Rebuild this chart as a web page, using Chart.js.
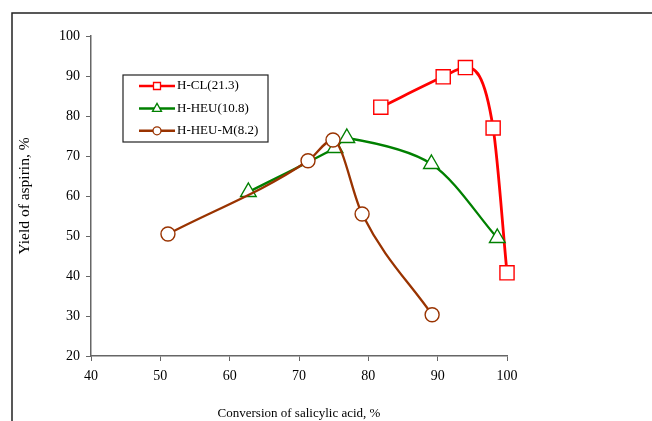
<!DOCTYPE html>
<html>
<head>
<meta charset="utf-8">
<script src="https://cdn.jsdelivr.net/npm/chart.js@4/dist/chart.umd.min.js"></script>
<style>
  html, body { margin: 0; padding: 0; background: #fff; }
</style>
</head>
<body>
<canvas id="myChart" width="652" height="421"></canvas>
<script>
/* global Chart */

// series (conversion %, yield %)
let seriesNames = ['H-CL(21.3)', 'H-HEU(10.8)', 'H-HEU-M(8.2)'];
let clX = [81.8, 90.8, 94.0, 98.0, 100.0];
let clY = [82.2, 89.8, 92.1, 77.0, 40.8];
let heuX = [62.7, 75.2, 76.9, 89.1, 98.6];
let heuY = [61.0, 72.0, 74.5, 68.0, 49.5];
let heumX = [51.1, 71.3, 74.9, 79.1, 89.2];
let heumY = [50.5, 68.8, 74.0, 55.5, 30.3];
let xTicks = [40, 50, 60, 70, 80, 90, 100];
let yTicks = [20, 30, 40, 50, 60, 70, 80, 90, 100];

let colors = ['#ff0000', '#008000', '#993300'];
let styles = ['rect', 'triangle', 'circle'];
let radii = [10, 9, 7];

function pts(xs, ys) {
  return xs.map(function (x, i) { return { x: x, y: ys[i] }; });
}

let serif = "'Liberation Serif', 'Times New Roman', serif";

// outer frame (top + left edges only)
let framePlugin = {
  id: 'frame',
  beforeDraw: function (chart) {
    let c = chart.ctx;
    c.save();
    c.strokeStyle = '#222';
    c.lineWidth = 1.5;
    c.beginPath();
    c.moveTo(652, 13);
    c.lineTo(12, 13);
    c.lineTo(12, 421);
    c.stroke();
    c.restore();
  }
};

// boxed legend with line + marker samples
let legendPlugin = {
  id: 'boxLegend',
  afterDraw: function (chart) {
    let c = chart.ctx;
    c.save();
    c.fillStyle = '#fff';
    c.fillRect(123, 75, 145, 67);
    c.strokeStyle = '#222';
    c.lineWidth = 1.2;
    c.strokeRect(123, 75, 145, 67);
    c.font = '13px ' + serif;
    c.textBaseline = 'middle';
    seriesNames.forEach(function (name, i) {
      let y = 86 + i * 22.4;
      c.strokeStyle = colors[i];
      c.lineWidth = 2.5;
      c.beginPath();
      c.moveTo(139, y);
      c.lineTo(175, y);
      c.stroke();
      c.fillStyle = '#fff';
      c.lineWidth = 1.3;
      c.beginPath();
      if (i === 0) {
        c.rect(153.5, y - 3.5, 7, 7);
      } else if (i === 1) {
        c.moveTo(157, y - 5);
        c.lineTo(161.5, y + 3);
        c.lineTo(152.5, y + 3);
        c.closePath();
      } else {
        c.arc(157, y, 4, 0, Math.PI * 2);
      }
      c.fill();
      c.stroke();
      c.fillStyle = '#000';
      c.fillText(name, 177, y);
    });
    c.restore();
  }
};

let datasets = [
  { data: pts(clX, clY), order: 2, cubicInterpolationMode: 'monotone' },
  { data: pts(heuX, heuY), order: 1, tension: 0.3 },
  { data: pts(heumX, heumY), order: 0, cubicInterpolationMode: 'monotone' }
].map(function (d, i) {
  return Object.assign(d, {
    label: seriesNames[i],
    borderColor: colors[i],
    borderWidth: i === 0 ? 2.8 : 2.3,
    backgroundColor: '#fff',
    pointStyle: styles[i],
    pointRadius: radii[i],
    pointBorderWidth: 1.4,
    pointBorderColor: colors[i],
    pointBackgroundColor: '#fff',
    clip: false,
    fill: false
  });
});

let ctx = document.getElementById('myChart').getContext('2d');
let myChart = new Chart(ctx, {
  type: 'line',
  data: { datasets: datasets },
  plugins: [framePlugin, legendPlugin],
  options: {
    responsive: false,
    animation: false,
    devicePixelRatio: 1,
    layout: { padding: { left: 0, top: 36, right: 145, bottom: 0 } },
    plugins: { legend: { display: false }, tooltip: { enabled: false } },
    scales: {
      x: {
        type: 'linear',
        min: xTicks[0],
        max: xTicks[xTicks.length - 1],
        afterBuildTicks: function (s) { s.ticks = xTicks.map(function (v) { return { value: v }; }); },
        afterFit: function (s) { s.height = 65; },
        grid: { drawOnChartArea: false, drawTicks: true, tickLength: 5, color: '#666' },
        border: { color: '#666', width: 1.5 },
        ticks: { color: '#000', font: { family: serif, size: 14 }, padding: 7, maxRotation: 0 },
        title: {
          display: true,
          text: 'Conversion of salicylic acid, %',
          color: '#000',
          font: { family: serif, size: 13 },
          padding: { top: 0, bottom: 0 }
        }
      },
      y: {
        min: yTicks[0],
        max: yTicks[yTicks.length - 1],
        afterBuildTicks: function (s) { s.ticks = yTicks.map(function (v) { return { value: v }; }); },
        afterFit: function (s) { s.width = 91; },
        grid: { drawOnChartArea: false, drawTicks: true, tickLength: 5, color: '#666' },
        border: { color: '#666', width: 1.5 },
        ticks: { color: '#000', font: { family: serif, size: 14 }, padding: 6 },
        title: {
          display: true,
          text: 'Yield of aspirin, %',
          color: '#000',
          font: { family: serif, size: 15.5 },
          padding: { top: 16, bottom: 0 }
        }
      }
    }
  }
});
</script>
</body>
</html>
